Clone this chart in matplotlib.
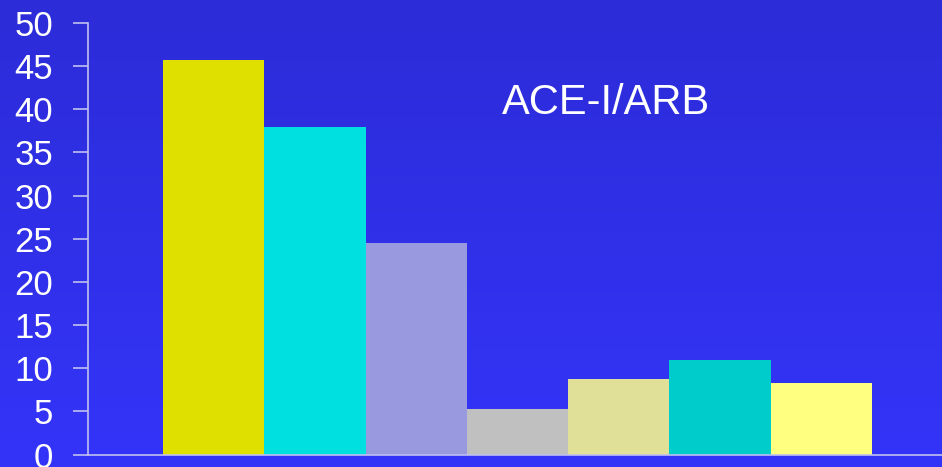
import matplotlib
matplotlib.use("Agg")
import matplotlib.pyplot as plt
import numpy as np
from matplotlib.colors import LinearSegmentedColormap

categories = ["A", "B", "C", "D", "E", "F", "G"]
values = [45.7, 37.9, 24.5, 5.3, 8.7, 10.9, 8.3]
bar_colors = ["#e0e000", "#00e0e0", "#9999e0", "#c0c0c0", "#e0e099", "#00cccc", "#ffff80"]
yticks = [0, 5, 10, 15, 20, 25, 30, 35, 40, 45, 50]
label = "ACE-I/ARB"

W, H = 942, 467
fig = plt.figure(figsize=(W / 100, H / 100), dpi=100)

# gradient background
bg = fig.add_axes([0, 0, 1, 1], zorder=0)
cmap = LinearSegmentedColormap.from_list("bg", ["#2c2cd8", "#3434f9"])
grad = np.linspace(0, 1, 256).reshape(-1, 1)
bg.imshow(grad, aspect="auto", cmap=cmap, extent=[0, 1, 0, 1], origin="upper")
bg.axis("off")

left = 88 / W
bottom = 1 - 454.5 / H
top = 1 - 23 / H
ax = fig.add_axes([left, bottom, 1 - left, top - bottom], zorder=1)
ax.patch.set_alpha(0)

x = np.arange(len(categories))
ax.bar(x, values, width=1.0, color=bar_colors, edgecolor="none", zorder=2)

ax.set_xlim(-1.240, 7.19)
ax.set_ylim(0, 50)
ax.set_yticks(yticks)
ax.set_yticklabels([str(t) for t in yticks], fontsize=25, color="white",
                   family=["Liberation Sans", "DejaVu Sans"])
ax.set_xticks([])
axis_col = "#c0c0f0"
for s in ["top", "right"]:
    ax.spines[s].set_visible(False)
for s in ["left", "bottom"]:
    ax.spines[s].set_color(axis_col)
    ax.spines[s].set_linewidth(1.2)
ax.tick_params(axis="y", length=11, width=1.2, color=axis_col, pad=14)

ax.text(606 / W, 1 - 102.5 / H, label, transform=fig.transFigure, ha="center", va="center",
        fontsize=30, color="white", family=["Liberation Sans", "DejaVu Sans"])

fig.savefig("out.png", dpi=100)
